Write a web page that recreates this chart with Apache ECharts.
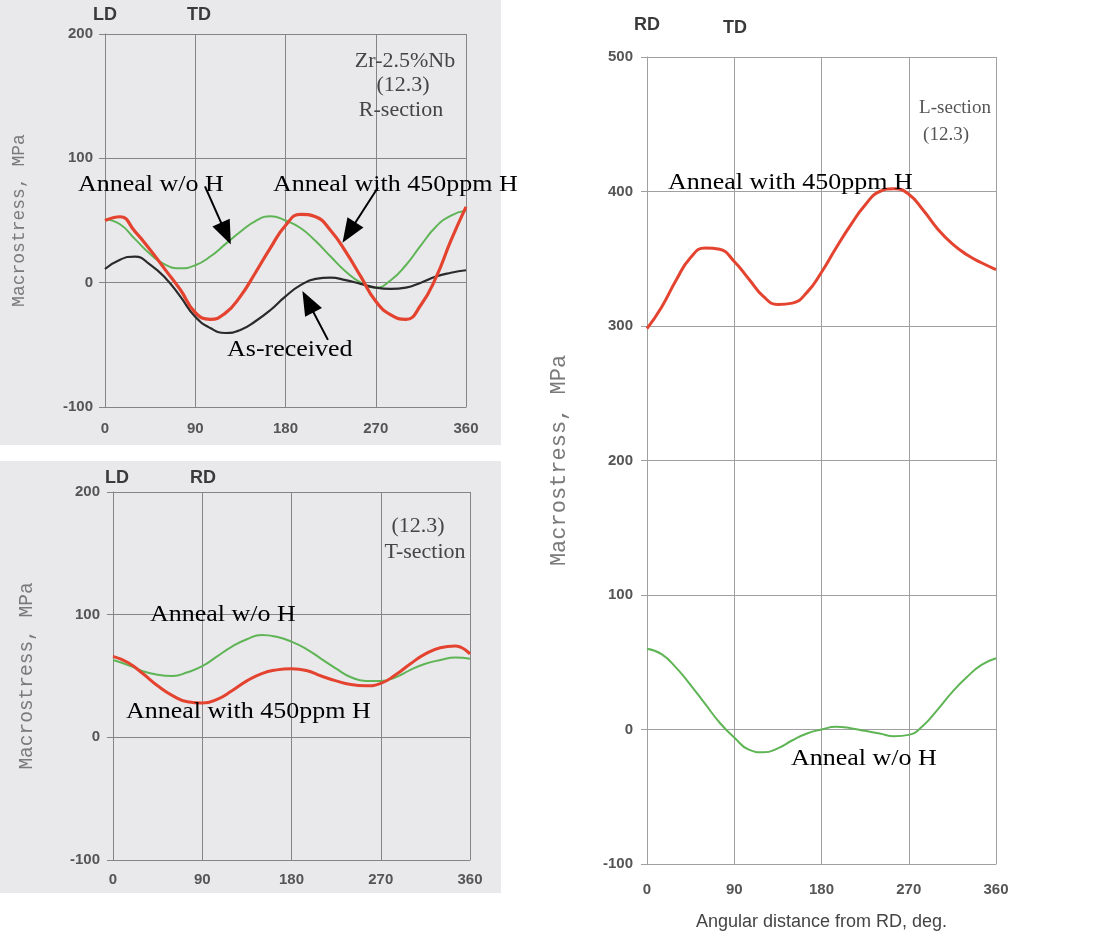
<!DOCTYPE html>
<html><head><meta charset="utf-8">
<script src="https://cdn.jsdelivr.net/npm/echarts@6/dist/echarts.min.js"></script>
<style>html,body{margin:0;padding:0;background:#fff}#c{width:1106px;height:938px}</style>
</head><body><div id="c"></div>
<script>
// ---- data (angle in degrees, macrostress in MPa) ----
const angles = [0,15,30,45,60,75,90,105,120,135,150,165,180,195,210,225,240,255,270,285,300,315,330,345,360];
const xTickLabels = ['0','90','180','270','360'];

// R-section (top left)
const rAnnealNoH   = [51,47,35,23,14.5,11.5,14,21,31,41,49.5,53.5,50,44,33.5,21,9,0,-4,2,14,30,45,54,58];
const rAnnealH     = [50,53,41,26.5,10.5,-5.5,-24,-29.5,-24.5,-11,8,28,46,55,53,42,25,5,-15,-26,-29.5,-18,4,34,61];
const rAsReceived  = [11,18.5,21,14.5,4,-11,-27.5,-36.5,-40.5,-38,-31,-22,-11,-2,3,4,2,-1,-4,-5,-4,0,5,8,10];

// T-section (bottom left)
const tAnnealNoH   = [63,59,54,51,50,53,58,66,74,80,83.5,82,78,72,64,56,49,46,46,49,55,60,63,65,64];
const tAnnealH     = [66,61,52,42,34,29,28,31,38,46,52,55,56,54.5,50,46,43,42,44,51,60,68,73,74.5,68];

// L-section (right)
const lAnnealH     = [298,314,334,351,358,357,348,335,322,316,317,325,340,358,375,390,400,402,398,386,372,361,353,347,342];
const lAnnealNoH   = [60,56,46,33,19,5,-6,-15,-17,-14,-8,-3,0,2,1,-1,-3,-5,-4,3,15,28,39,48,53];

const pairs = v => angles.map((a, i) => [a, v[i]]);

const RED = '#e4432f', GREEN = '#5fb555', BLACK = '#2a2a2a';
const tickFont = {fontFamily:'Liberation Sans, Arial', fontSize:15, fontWeight:'bold', color:'#555'};

function xAxis(gi, grid, margin, extra) {
  return Object.assign({
    type:'value', gridIndex:gi, min:0, max:360, interval:90,
    axisLine:{show:true, onZero:false, lineStyle:{color:grid, width:1}},
    axisTick:{show:false},
    splitLine:{show:true, lineStyle:{color:grid, width:1}},
    axisLabel:Object.assign({margin:margin, formatter: v => xTickLabels[xTickLabels.indexOf(String(v))] || String(v)}, tickFont)
  }, extra || {});
}
function yAxis(gi, grid, min, max, nameSize, nameGap, margin) {
  return {
    type:'value', gridIndex:gi, min:min, max:max, interval:100,
    name:'Macrostress, MPa', nameLocation:'middle', nameGap:nameGap,
    nameTextStyle:{fontFamily:'Liberation Mono, DejaVu Sans Mono, monospace', fontSize:nameSize, color:'#7a7a7a'},
    axisLine:{show:true, lineStyle:{color:grid, width:1}},
    axisTick:{show:true, length:6, lineStyle:{color:grid}},
    splitLine:{show:true, lineStyle:{color:grid, width:1}},
    axisLabel:Object.assign({margin:margin}, tickFont)
  };
}
function line(gi, data, color, width, extra) {
  return Object.assign({
    type:'line', xAxisIndex:gi, yAxisIndex:gi, data:pairs(data), smooth:0.5,
    showSymbol:false, symbol:'none', lineStyle:{color:color, width:width}, silent:true
  }, extra || {});
}

function serifText(x, y, text, size, color, align, sx) {
  return {type:'text', x:x, y:y, scaleX:sx || 1, z:100,
    style:{text:text, x:0, y:0, font:'normal ' + size + 'px "Liberation Serif", "Times New Roman", serif',
      fill:color, textAlign:align || 'left', textVerticalAlign:'middle'}};
}
function dirText(x, y, text) {
  return {type:'text', x:x, y:y, z:100,
    style:{text:text, x:0, y:0, font:'bold 18px "Liberation Sans", Arial, sans-serif', fill:'#3a3a3a',
      textAlign:'center', textVerticalAlign:'middle'}};
}

const arrowLine = {
  silent:true, symbol:['none','triangle'], symbolSize:[19,24], animation:false,
  label:{show:false}, lineStyle:{color:'#000', width:2, type:'solid'},
  emphasis:{disabled:true},
  data:[
    [{coord:[99.7,77.4]},  {coord:[120.6,39.5]}],
    [{coord:[272.2,76.6]}, {coord:[243.3,40.3]}],
    [{coord:[222.3,-46]},  {coord:[202.4,-15.3]}]
  ]
};

const chart = echarts.init(document.getElementById('c'), null, {renderer:'canvas'});
chart.setOption({
  animation:false,
  backgroundColor:'#ffffff',
  grid:[
    {left:105, top:34, width:361, height:373},
    {left:113, top:492, width:357, height:368},
    {left:647, top:57, width:349, height:807}
  ],
  xAxis:[
    xAxis(0, '#858585', 14),
    xAxis(1, '#858585', 12),
    xAxis(2, '#a0a0a0', 18, {name:'Angular distance from RD, deg.', nameLocation:'middle', nameGap:49,
      nameTextStyle:{fontFamily:'Liberation Sans, Arial', fontSize:18, color:'#444'}})
  ],
  yAxis:[
    yAxis(0, '#858585', -100, 200, 18, 77, 12),
    yAxis(1, '#858585', -100, 200, 19.5, 76, 13),
    yAxis(2, '#a0a0a0', -100, 500, 22, 77, 14)
  ],
  series:[
    line(0, rAnnealNoH, GREEN, 2),
    line(0, rAsReceived, BLACK, 2.2, {markLine:arrowLine}),
    line(0, rAnnealH, RED, 3.2),
    line(1, tAnnealNoH, GREEN, 2),
    line(1, tAnnealH, RED, 3),
    line(2, lAnnealNoH, GREEN, 2),
    line(2, lAnnealH, RED, 3)
  ],
  graphic:{elements:[
    {type:'rect', z:-100, shape:{x:0, y:0, width:501, height:445}, style:{fill:'#e9e9ec'}},
    {type:'rect', z:-100, shape:{x:0, y:461, width:501, height:432}, style:{fill:'#e9e9ec'}},
    // top-left
    dirText(105, 15, 'LD'), dirText(199, 15, 'TD'),
    serifText(405, 62, 'Zr-2.5%Nb', 20, '#444', 'center', 1.1),
    serifText(403, 86, '(12.3)', 20, '#444', 'center', 1.1),
    serifText(401, 111, 'R-section', 20, '#444', 'center', 1.1),
    serifText(78, 185, 'Anneal w/o H', 23, '#000', 'left', 1.13),
    serifText(273, 185, 'Anneal with 450ppm H', 23, '#000', 'left', 1.13),
    serifText(227, 350, 'As-received', 23, '#000', 'left', 1.13),
    // bottom-left
    dirText(117, 478, 'LD'), dirText(203, 478, 'RD'),
    serifText(418, 527, '(12.3)', 20, '#444', 'center', 1.1),
    serifText(425, 553, 'T-section', 20, '#444', 'center', 1.1),
    serifText(150, 615, 'Anneal w/o H', 23, '#000', 'left', 1.13),
    serifText(126, 712, 'Anneal with 450ppm H', 23, '#000', 'left', 1.13),
    // right
    dirText(647, 25, 'RD'), dirText(735, 28, 'TD'),
    serifText(955, 108, 'L-section', 19, '#555', 'center', 1),
    serifText(946, 135, '(12.3)', 19, '#555', 'center', 1),
    serifText(668, 183, 'Anneal with 450ppm H', 23, '#000', 'left', 1.13),
    serifText(791, 759, 'Anneal w/o H', 23, '#000', 'left', 1.13)
  ]}
});
</script>
</body></html>
